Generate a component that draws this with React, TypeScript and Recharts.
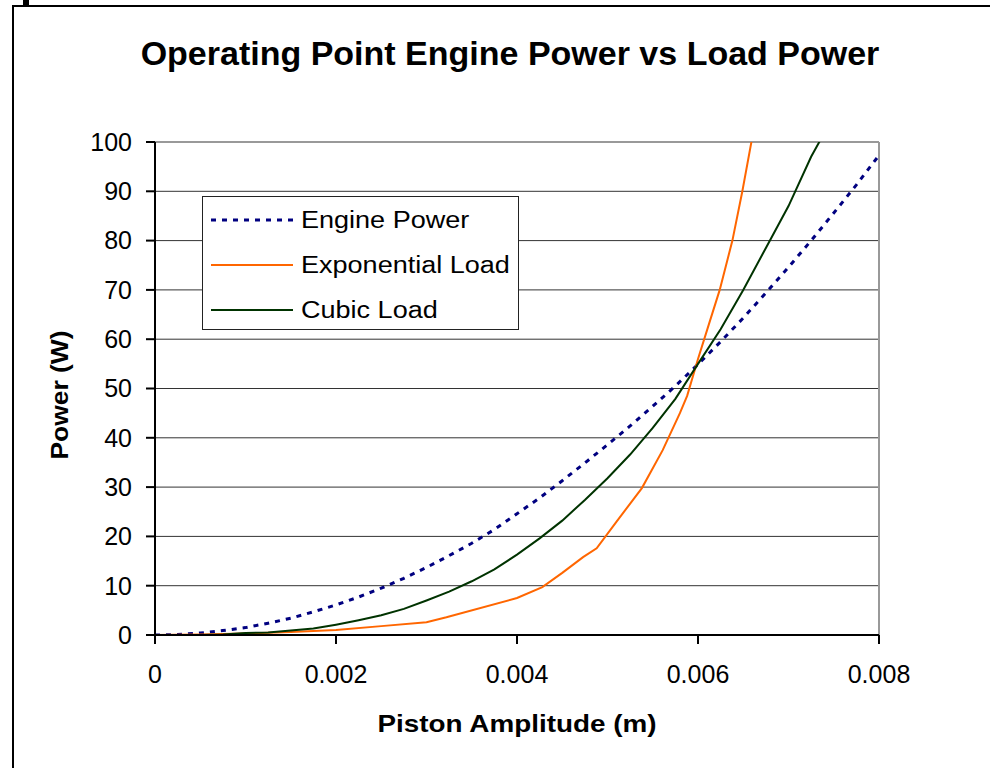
import { LineChart, Line, XAxis, YAxis, CartesianGrid, ReferenceLine } from 'recharts';

// Engine power curve (x in metres, y in watts)
const engineX = [0, 0.00025, 0.0005, 0.00075, 0.001, 0.00125, 0.0015, 0.00175, 0.002, 0.00225, 0.0025,
  0.00275, 0.003, 0.00325, 0.0035, 0.00375, 0.004, 0.00425, 0.0045, 0.00475, 0.005, 0.00525, 0.0055,
  0.00575, 0.006, 0.00625, 0.0065, 0.00675, 0.007, 0.00725, 0.0075, 0.00775, 0.008];
const engineY = [0, 0.1, 0.4, 0.9, 1.5, 2.4, 3.4, 4.7, 6.1, 7.7, 9.5, 11.5, 13.7, 16.1, 18.6, 21.4, 24.6,
  27.8, 31.3, 34.9, 38.6, 42.4, 46.4, 50.5, 54.9, 59.5, 64.3, 69.4, 74.6, 80, 85.6, 91.3, 97.3];

const expX = [0, 0.0005, 0.001, 0.0015, 0.002, 0.0025, 0.003, 0.00322, 0.004, 0.00428, 0.0045, 0.00473,
  0.00488, 0.0051, 0.00538, 0.00561, 0.0058, 0.00588, 0.006, 0.00612, 0.00624, 0.00638, 0.00649, 0.0066];
const expY = [0, 0.1, 0.3, 0.6, 1.0, 1.8, 2.6, 3.6, 7.5, 9.7, 12.6, 15.8, 17.6, 23, 29.8, 37.5, 45, 48.5,
  56, 63, 70, 80, 90, 101];

const cubicX = [0, 0.00025, 0.0005, 0.00075, 0.001, 0.00125, 0.0015, 0.00175, 0.002, 0.00225, 0.0025,
  0.00275, 0.003, 0.00325, 0.0035, 0.00375, 0.004, 0.00425, 0.0045, 0.00475, 0.005, 0.00525, 0.0055,
  0.00575, 0.006, 0.00625, 0.0065, 0.00675, 0.007, 0.00725, 0.0074];
const cubicY = [0, 0, 0, 0.1, 0.4, 0.5, 0.9, 1.3, 2.1, 3.0, 4.0, 5.3, 7.0, 8.8, 10.9, 13.3, 16.3, 19.6, 23.2,
  27.4, 31.8, 36.6, 42, 47.9, 55, 62, 70, 78.5, 87, 97, 102];

const xTicks = [0, 0.002, 0.004, 0.006, 0.008];
const yTicks = [0, 10, 20, 30, 40, 50, 60, 70, 80, 90, 100];

const zip = (xs: number[], ys: number[]) => xs.map((x, i) => ({ x, y: ys[i] }));
const engineData = zip(engineX, engineY);
const expData = zip(expX, expY);
const cubicData = zip(cubicX, cubicY);

const FONT = '"Liberation Sans", Arial, sans-serif';

const legendItems = [
  { name: 'Engine Power', color: '#000080', width: 3, dash: '5 6' },
  { name: 'Exponential Load', color: '#FF6600', width: 2, dash: undefined },
  { name: 'Cubic Load', color: '#003300', width: 2, dash: undefined },
];

export default function App() {
  return (
    <div style={{ position: 'absolute', left: 0, top: 0, width: 990, height: 768, background: '#fff', fontFamily: FONT, overflow: 'hidden' }}>
      <div style={{ position: 'absolute', left: 12, top: 5, width: 1000, height: 800, borderLeft: '2px solid #000', borderTop: '2px solid #000' }} />
      <div style={{ position: 'absolute', left: 23, top: 0, width: 6, height: 6, background: '#000' }} />
      <div style={{ position: 'absolute', left: 0, top: 34, width: 1020, textAlign: 'center', fontSize: 34, fontWeight: 'bold', whiteSpace: 'nowrap' }}>
        Operating Point Engine Power vs Load Power
      </div>
      <div style={{ position: 'absolute', left: 0, top: 0 }}>
        <LineChart width={990} height={768} margin={{ top: 142, right: 111, bottom: 73, left: 95 }}>
          <CartesianGrid vertical={false} stroke="#333" horizontalValues={yTicks} />
          <ReferenceLine x={0.008} stroke="#999" strokeWidth={2} />
          <ReferenceLine y={100} stroke="#999" strokeWidth={2} />
          <XAxis
            type="number"
            dataKey="x"
            domain={[0, 0.008]}
            ticks={xTicks}
            allowDataOverflow
            height={60}
            tickSize={9}
            tickMargin={21}
            axisLine={{ stroke: '#000', strokeWidth: 2 }}
            tickLine={{ stroke: '#000', strokeWidth: 2 }}
            tick={{ fontSize: 25, fill: '#000', fontFamily: FONT }}
          />
          <YAxis
            type="number"
            domain={[0, 100]}
            ticks={yTicks}
            allowDataOverflow
            width={60}
            tickSize={9}
            tickMargin={14}
            axisLine={{ stroke: '#000', strokeWidth: 2 }}
            tickLine={{ stroke: '#000', strokeWidth: 2 }}
            tick={{ fontSize: 25, fill: '#000', fontFamily: FONT }}
          />
          <Line data={engineData} dataKey="y" name="Engine Power" stroke="#000080" strokeWidth={3} strokeDasharray="5 6" dot={false} isAnimationActive={false} type="linear" />
          <Line data={expData} dataKey="y" name="Exponential Load" stroke="#FF6600" strokeWidth={2} dot={false} isAnimationActive={false} type="linear" />
          <Line data={cubicData} dataKey="y" name="Cubic Load" stroke="#003300" strokeWidth={2} dot={false} isAnimationActive={false} type="linear" />
        </LineChart>
      </div>
      <div style={{ position: 'absolute', left: 517, top: 710, transform: 'translateX(-50%) scaleX(1.16)', fontSize: 24, fontWeight: 'bold', whiteSpace: 'nowrap' }}>
        Piston Amplitude (m)
      </div>
      <div style={{ position: 'absolute', left: 60, top: 395, transform: 'translate(-50%, -50%) rotate(-90deg) scaleX(1.1)', fontSize: 24, fontWeight: 'bold', whiteSpace: 'nowrap' }}>
        Power (W)
      </div>
      <div style={{ position: 'absolute', left: 202, top: 196, width: 315, height: 132, border: '1px solid #222', background: '#fff' }}>
        {legendItems.map((item, i) => (
          <div key={item.name} style={{ position: 'absolute', left: 8, top: 8 + i * 45, height: 30, display: 'flex', alignItems: 'center' }}>
            <svg width={84} height={10}>
              <line x1={0} y1={5} x2={82} y2={5} stroke={item.color} strokeWidth={item.width} strokeDasharray={item.dash} />
            </svg>
            <span style={{ fontSize: 23.5, marginLeft: 6, transform: 'scaleX(1.15)', transformOrigin: 'left center', whiteSpace: 'nowrap' }}>{item.name}</span>
          </div>
        ))}
      </div>
    </div>
  );
}
